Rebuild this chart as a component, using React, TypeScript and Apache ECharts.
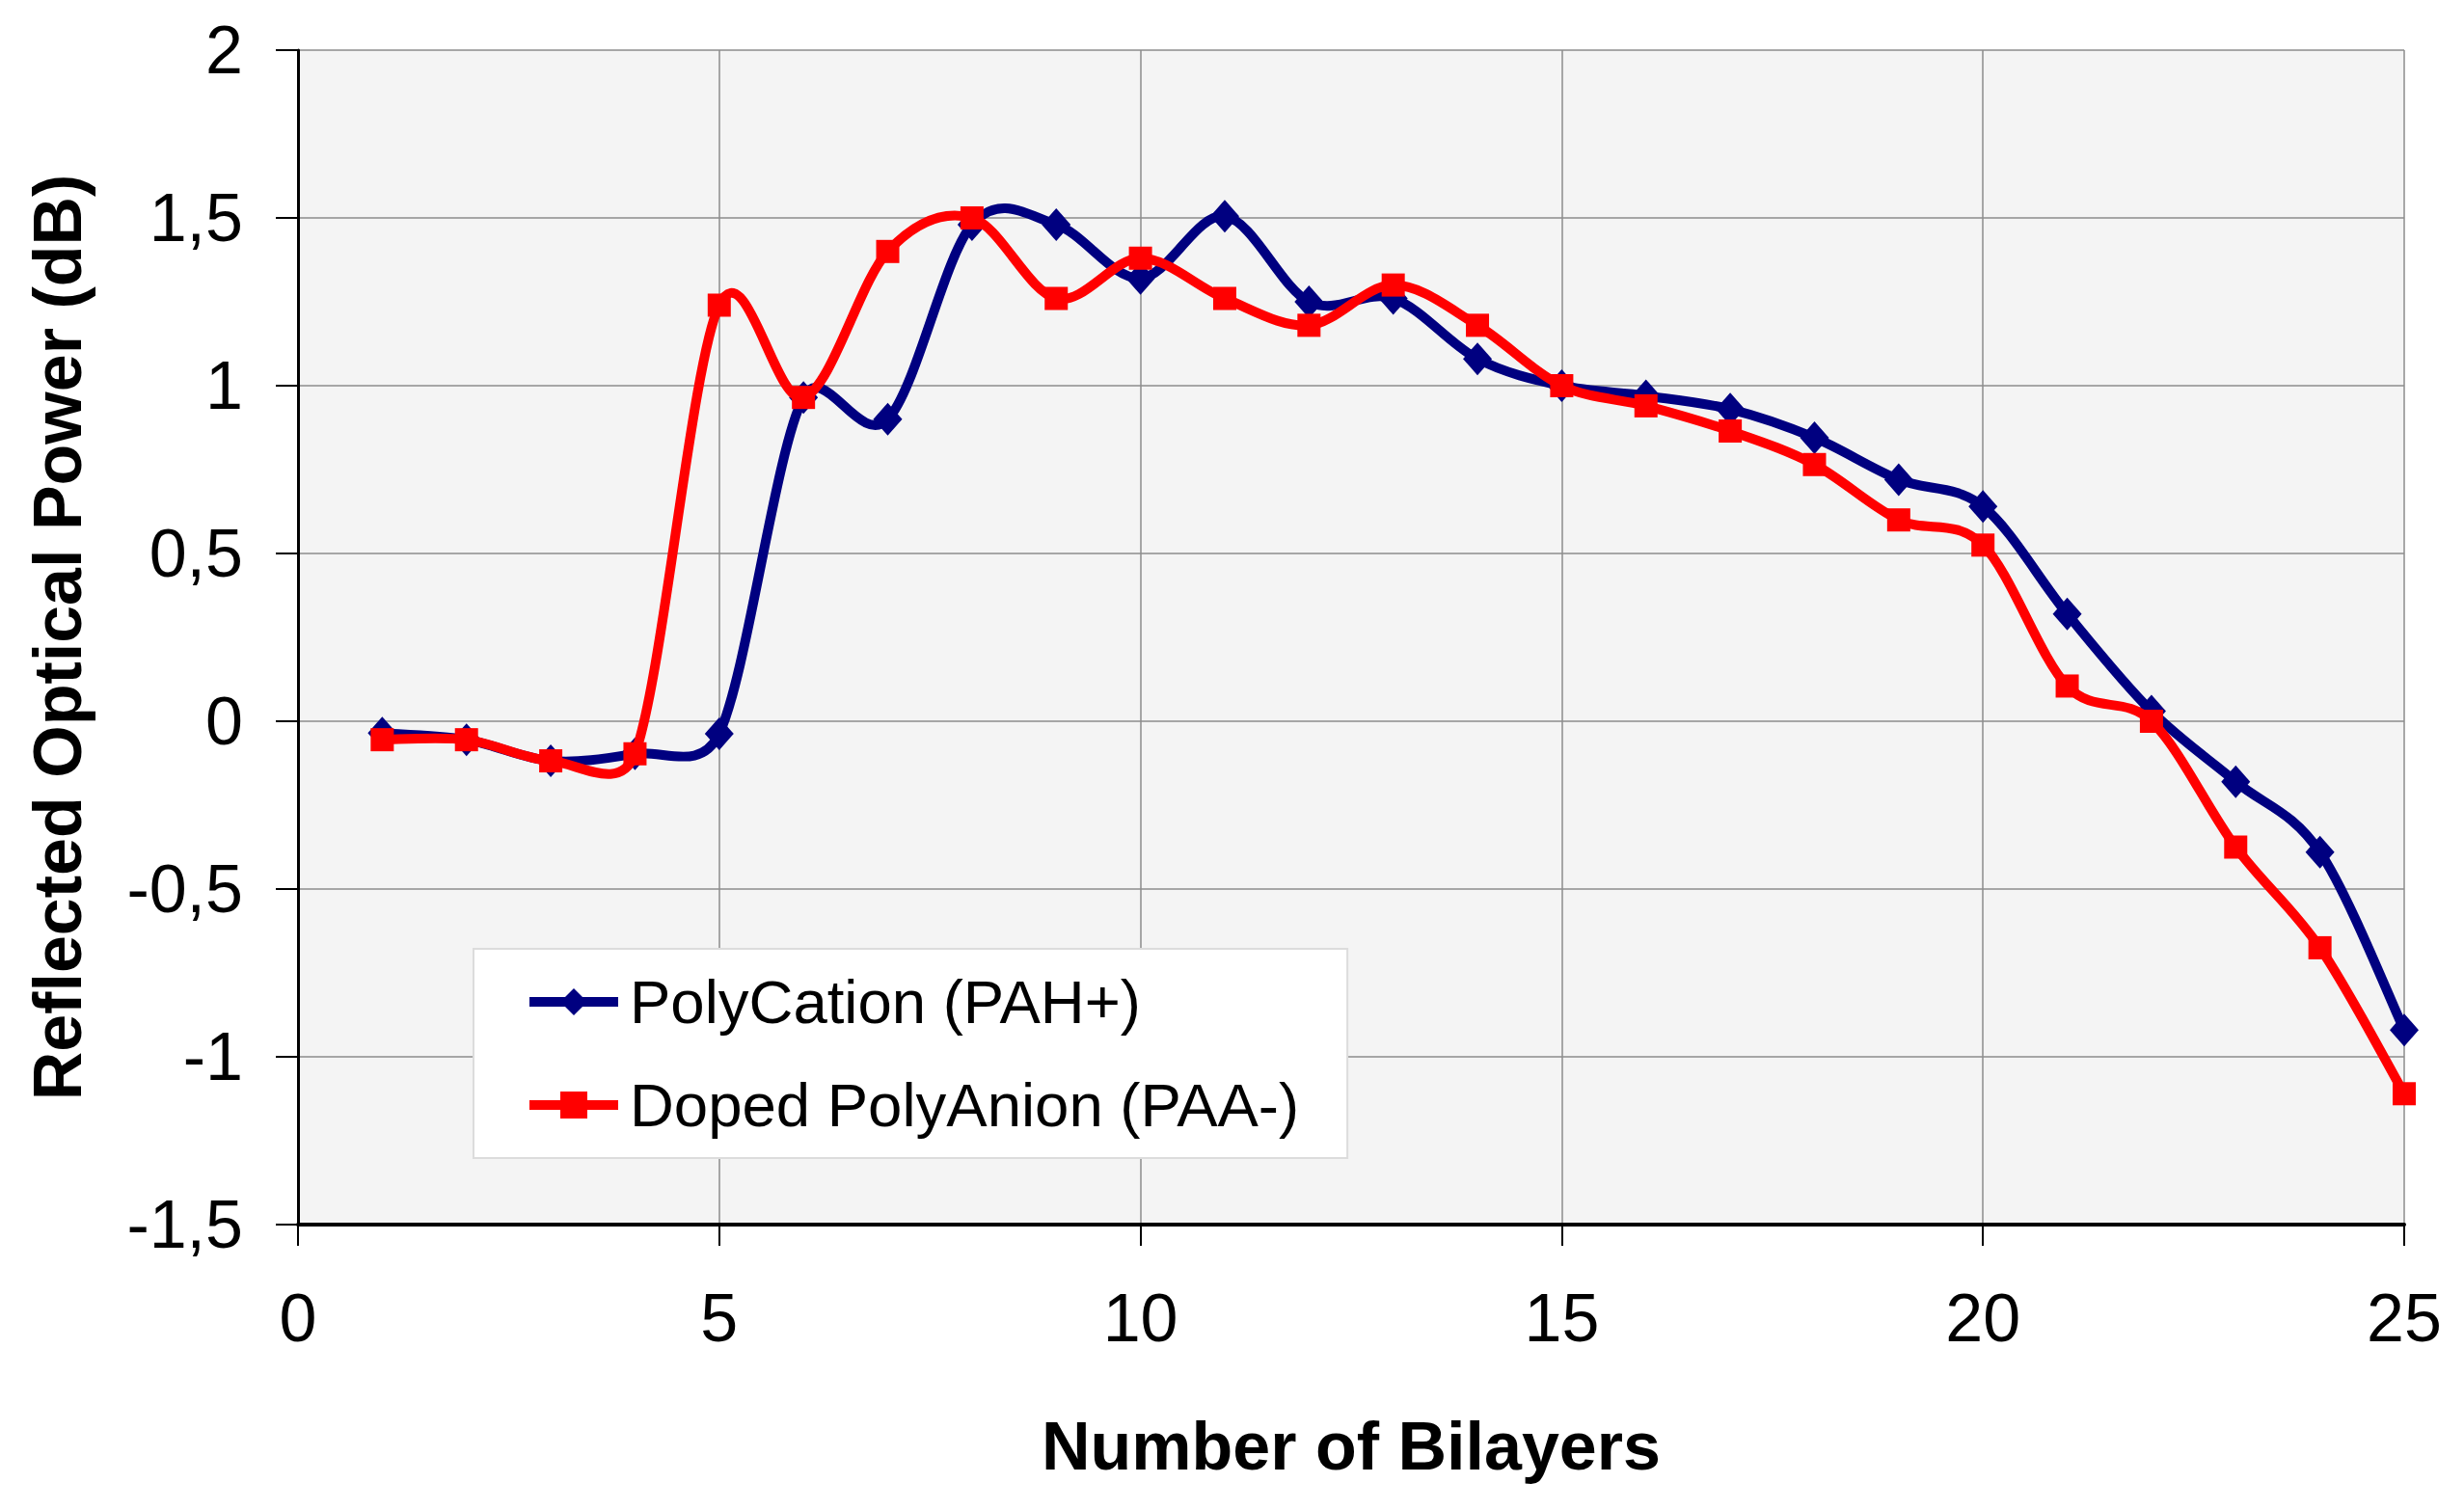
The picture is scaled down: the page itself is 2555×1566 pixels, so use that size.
import React, { useEffect, useRef } from "react";
import * as echarts from "echarts";

const bilayers = [1, 2, 3, 4, 5, 6, 7, 8, 9, 10, 11, 12, 13, 14, 15, 16, 17, 18, 19, 20, 21, 22, 23, 24, 25];
const polyCation = [-0.035, -0.055, -0.118, -0.097, -0.037, 0.965, 0.9, 1.48, 1.48, 1.32, 1.505, 1.25, 1.26, 1.08, 1.0, 0.97, 0.93, 0.845, 0.72, 0.64, 0.32, 0.03, -0.18, -0.39, -0.92];
const dopedPolyAnion = [-0.055, -0.055, -0.118, -0.097, 1.24, 0.965, 1.4, 1.5, 1.26, 1.38, 1.26, 1.18, 1.3, 1.18, 1.0, 0.94, 0.865, 0.765, 0.6, 0.525, 0.105, 0.0, -0.375, -0.675, -1.11];
const seriesNames = ["PolyCation (PAH+)", "Doped PolyAnion (PAA-)"];
const seriesColors = ["#000080", "#ff0000"];
const xAxisTitle = "Number of Bilayers";
const yAxisTitle = "Reflected Optical Power (dB)";

const FONT = "'Liberation Sans', Arial, sans-serif";

// tangent (p_next - p_prev)/6, capped at half the segment length (Excel-like smoothing)
function tangent(prev: number[], next: number[], segLen: number) {
  let tx = (next[0] - prev[0]) / 6;
  let ty = (next[1] - prev[1]) / 6;
  const len = Math.hypot(tx, ty);
  const cap = segLen / 2;
  if (len > cap && len > 0) {
    tx *= cap / len;
    ty *= cap / len;
  }
  return [tx, ty];
}

// Smoothed line segments drawn as bezier curves through the chart's own scales
function smoothCurve(ys: number[], color: string, z: number) {
  const pts = bilayers.map((x, i) => [x, ys[i]]);
  return {
    type: "custom",
    z,
    silent: true,
    data: pts.slice(0, -1),
    renderItem: (params: any, api: any) => {
      const i = params.dataIndex;
      const n = pts.length;
      const p0 = api.coord(pts[Math.max(i - 1, 0)]);
      const p1 = api.coord(pts[i]);
      const p2 = api.coord(pts[i + 1]);
      const p3 = api.coord(pts[Math.min(i + 2, n - 1)]);
      const seg = Math.hypot(p2[0] - p1[0], p2[1] - p1[1]);
      const t1 = tangent(p0, p2, seg);
      const t2 = tangent(p1, p3, seg);
      return {
        type: "bezierCurve",
        shape: {
          x1: p1[0],
          y1: p1[1],
          x2: p2[0],
          y2: p2[1],
          cpx1: p1[0] + t1[0],
          cpy1: p1[1] + t1[1],
          cpx2: p2[0] - t2[0],
          cpy2: p2[1] - t2[1],
        },
        style: { stroke: color, lineWidth: 10, fill: null, lineCap: "round" },
      };
    },
  };
}

export default function App() {
  const ref = useRef<HTMLDivElement>(null);
  useEffect(() => {
    document.body.style.margin = "0";
    if (!ref.current) return;
    const chart = echarts.init(ref.current, null, { renderer: "svg" });
    const pts = (ys: number[]) => bilayers.map((x, i) => [x, ys[i]]);
    chart.setOption({
      animation: false,
      backgroundColor: "#ffffff",
      grid: {
        left: 309,
        top: 52,
        width: 2184,
        height: 1218,
        show: true,
        backgroundColor: "#f4f4f4",
        borderWidth: 0,
      },
      legend: {
        orient: "vertical",
        left: 491,
        top: 984,
        backgroundColor: "#ffffff",
        borderColor: "#dcdcdc",
        borderWidth: 2,
        padding: [23, 50, 23, 53],
        itemGap: 43,
        itemWidth: 92,
        itemHeight: 35,
        lineStyle: { width: 10, opacity: 1 },
        textStyle: {
          fontFamily: FONT,
          fontSize: 63.5,
          color: "#000000",
          lineHeight: 62,
          padding: [0, 0, 0, 7],
        },
        data: seriesNames,
      },
      xAxis: {
        type: "value",
        min: 0,
        max: 25,
        interval: 5,
        name: xAxisTitle,
        nameLocation: "middle",
        nameGap: 195,
        nameTextStyle: { fontFamily: FONT, fontSize: 70, fontWeight: "bold", color: "#000" },
        axisLine: { show: true, onZero: false, lineStyle: { color: "#000", width: 4 } },
        axisTick: { show: true, length: 22, lineStyle: { color: "#000", width: 2 } },
        axisLabel: { margin: 62, fontFamily: FONT, fontSize: 70, color: "#000" },
        splitLine: { show: true, lineStyle: { color: "#8c8c8c", width: 1.5 } },
      },
      yAxis: {
        type: "value",
        min: -1.5,
        max: 2,
        interval: 0.5,
        name: yAxisTitle,
        nameLocation: "middle",
        nameGap: 214,
        nameRotate: 90,
        nameTextStyle: { fontFamily: FONT, fontSize: 70, fontWeight: "bold", color: "#000" },
        axisLine: { show: true, onZero: false, lineStyle: { color: "#000", width: 3 } },
        axisTick: { show: true, length: 23, lineStyle: { color: "#000", width: 2 } },
        axisLabel: {
          margin: 57,
          fontFamily: FONT,
          fontSize: 70,
          color: "#000",
          formatter: (v: number) => String(v).replace(".", ","),
        },
        splitLine: { show: true, lineStyle: { color: "#8c8c8c", width: 1.5 } },
      },
      series: [
        smoothCurve(polyCation, seriesColors[0], 2),
        {
          name: seriesNames[0],
          type: "line",
          data: pts(polyCation),
          symbol: "diamond",
          symbolSize: [30, 34],
          color: seriesColors[0],
          lineStyle: { color: seriesColors[0], width: 10, opacity: 0 },
          itemStyle: { color: seriesColors[0] },
          z: 3,
        },
        smoothCurve(dopedPolyAnion, seriesColors[1], 4),
        {
          name: seriesNames[1],
          type: "line",
          data: pts(dopedPolyAnion),
          symbol: "rect",
          symbolSize: 24,
          color: seriesColors[1],
          lineStyle: { color: seriesColors[1], width: 10, opacity: 0 },
          itemStyle: { color: seriesColors[1] },
          z: 5,
        },
      ],
    });
    return () => chart.dispose();
  }, []);
  return <div ref={ref} style={{ width: 2555, height: 1566 }} />;
}
